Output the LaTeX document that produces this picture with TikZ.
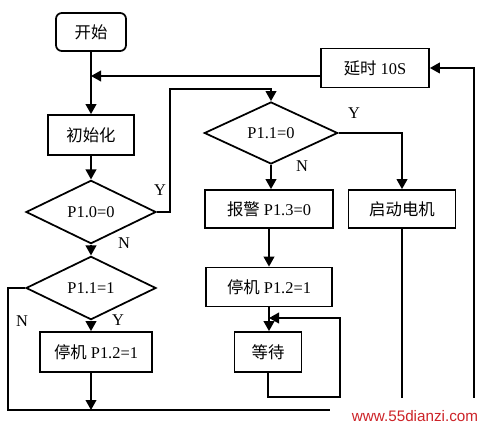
\documentclass[tikz,border=0pt]{standalone}
\usepackage{fontspec}
\setmainfont{Liberation Serif}
\newfontfamily\cjk{Noto Sans CJK SC}
\newfontfamily\wmfont{Liberation Sans}
\usepackage{xcolor}
\usepackage{tikz}
\usetikzlibrary{shapes.geometric, arrows.meta, positioning, calc}

\definecolor{wmred}{RGB}{205,35,40}

\begin{document}
\begin{tikzpicture}[
    x=0.03cm, y=-0.03cm,
    proc/.style={draw, line width=1.5pt, minimum height=1.17cm, inner sep=0pt, font=\fontsize{14}{16}\selectfont},
    startbox/.style={proc, rounded corners=5pt},
    decision/.style={draw, diamond, aspect=2, line width=1.5pt, inner sep=0pt, minimum width=3.9cm, minimum height=1.9cm, font=\fontsize{14}{16}\selectfont},
    lbl/.style={font=\fontsize{14}{16}\selectfont},
    arr/.style={-{Triangle[length=3mm, width=3.2mm]}, line width=1.5pt},
    line/.style={line width=1.5pt},
]
\useasboundingbox[fill=white] (0,0) rectangle (485,429);

% left column
\node[startbox, minimum width=2.1cm, minimum height=1.14cm] (start) at (91,32) {\cjk 开始};
\node[proc, minimum width=2.58cm, minimum height=1.2cm] (init) at (91,135) {\cjk 初始化};
\node[decision] (p10) at (91,212) {P1.0=0};
\node[decision] (p11a) at (91,288) {P1.1=1};
\node[proc, minimum width=3.36cm, minimum height=1.2cm] (stopa) at (96,352) {{\cjk 停机} P1.2=1};

% middle and right columns
\node[proc, minimum width=3.24cm] (delay) at (375,68) {{\cjk 延时} 10S};
\node[decision, minimum width=4cm, minimum height=1.86cm] (p11b) at (271,133) {P1.1=0};
\node[proc, minimum width=3.84cm, minimum height=1.14cm] (alarm) at (269,209) {{\cjk 报警} P1.3=0};
\node[proc, minimum width=3.21cm, minimum height=1.14cm] (motor) at (402,209) {\cjk 启动电机};
\node[proc, minimum width=3.78cm] (stopb) at (269,287) {{\cjk 停机} P1.2=1};
\node[proc, minimum width=2.01cm, minimum height=1.2cm] (wait) at (268,352) {\cjk 等待};

\coordinate (join) at (91,76);
\coordinate (up) at (170,89);
\coordinate (bl) at (8,410);
\coordinate (br) at (474,410);
\coordinate (loop) at (340,318);

\draw[arr] (start) -- (init);
\draw[arr] (join -| delay.west) -- (join);
\draw[arr] (init) -- (p10);
\draw[arr] (p10) -- (p11a);
\node[lbl] (ln0) at (124,243) {N};
\draw[arr] (p11a.south) -- (p11a.south |- stopa.north);
\node[lbl] (ly2) at (118,320) {Y};
\draw[arr] (p11a.south |- stopa.south) -- (p11a.south |- bl);
\draw[arr] (p10.east) -| (up) -| (p11b.north);
\node[lbl] (ly0) at (160,190) {Y};
\draw[line] (p11a.west) -| (bl) -- (br);
\node[lbl] (ln1) at (22,321) {N};
\draw[arr] (br) |- (delay.east);

\draw[arr] (p11b.east) -| (motor.north);
\node[lbl] (ly1) at (354,113) {Y};
\draw[arr] (p11b.south) -- (p11b.south |- alarm.north);
\node[lbl] (ln2) at (302,166) {N};
\draw[arr] (alarm.south) -- (stopb.north);
\draw[arr] (stopb.south) -- (stopb.south |- wait.north);
\draw[arr] (wait.south) -- ++(0,24) -| (loop) -- (loop -| stopb.south);
\draw[line] (motor.south) -- (motor.south |- br);

% watermark
\node[fill=white, inner sep=0pt, minimum width=4.65cm, minimum height=0.93cm] (wmbg) at (407.5,413.5) {};
\node[font=\wmfont\fontsize{13}{15}\selectfont, text=wmred] (wm) at (415,416) {www.55dianzi.com};
\end{tikzpicture}
\end{document}
